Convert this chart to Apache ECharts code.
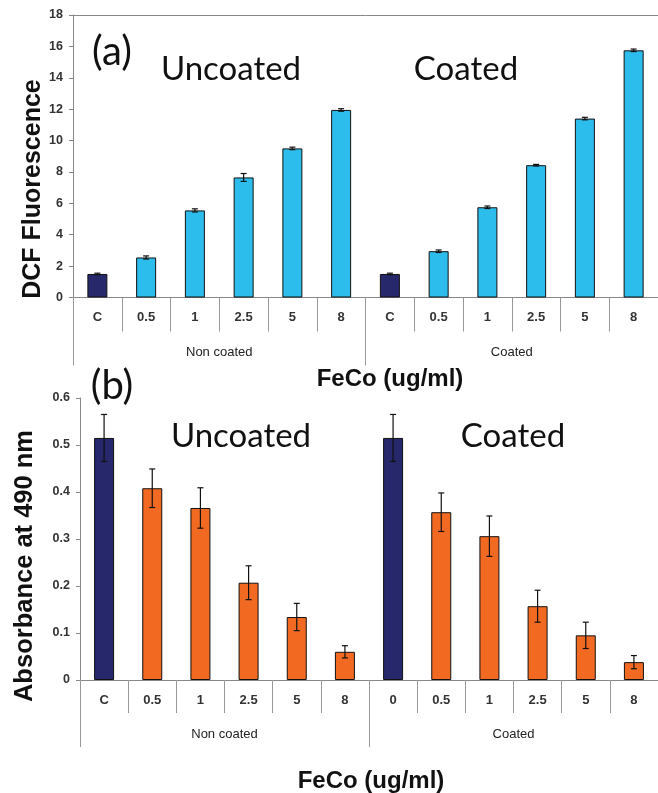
<!DOCTYPE html>
<html>
<head>
<meta charset="utf-8">
<script src="https://cdn.jsdelivr.net/npm/echarts@6/dist/echarts.min.js"></script>
<style>html,body{margin:0;padding:0;background:#fff;}#c{width:658px;height:793px;}</style>
</head>
<body>
<div id="c"></div>
<script>
// ---- data ----
const catsA = ['C','0.5','1','2.5','5','8','C','0.5','1','2.5','5','8'];
const catsB = ['C','0.5','1','2.5','5','8','0','0.5','1','2.5','5','8'];
const groups = ['Non coated','Coated'];
const dcfUncoated = [1.5, 2.55, 5.55, 7.65, 9.5, 11.95];
const dcfCoated = [1.5, 2.95, 5.75, 8.43, 11.4, 15.75];
const dcfErrUncoated = [0.05, 0.1, 0.1, 0.25, 0.08, 0.08];
const dcfErrCoated = [0.05, 0.08, 0.08, 0.05, 0.08, 0.08];
const absUncoated = [0.515, 0.408, 0.366, 0.207, 0.134, 0.06];
const absCoated = [0.515, 0.357, 0.306, 0.157, 0.095, 0.038];
const absErrUncoated = [0.05, 0.041, 0.043, 0.036, 0.029, 0.013];
const absErrCoated = [0.05, 0.041, 0.043, 0.034, 0.028, 0.014];
const yTicksA = {min: 0, max: 18, interval: 2};
const yTicksB = {min: 0, max: 0.6, interval: 0.1};

// ---- styles ----
const NAVY = '#27286B', CYAN = '#2DBDEC', ORANGE = '#F26A22';
const yTickFont = {fontFamily: 'Arial, Liberation Sans', fontWeight: 'bold', fontSize: 12.5, color: '#333'};
const xTickFont = {fontFamily: 'Arial, Liberation Sans', fontWeight: 'bold', fontSize: 13, color: '#333'};
const annFont = 'Lato, "Open Sans", sans-serif';

function barData(u, c, color) {
  const vals = u.concat(c);
  return vals.map((v, i) => ({value: v, itemStyle: {color: (i % 6 === 0) ? NAVY : color}}));
}
function errData(u, c, eu, ec) {
  const vals = u.concat(c), errs = eu.concat(ec);
  return vals.map((v, i) => [i, v, errs[i]]);
}
function errRender(params, api) {
  const x = api.value(0), y = api.value(1), e = api.value(2);
  const hi = api.coord([x, y + e]);
  const lo = api.coord([x, y - e]);
  const h = 3;
  const st = {stroke: '#111', lineWidth: 1.2};
  return {type: 'group', children: [
    {type: 'line', shape: {x1: hi[0], y1: hi[1], x2: lo[0], y2: lo[1]}, style: st},
    {type: 'line', shape: {x1: hi[0]-h, y1: hi[1], x2: hi[0]+h, y2: hi[1]}, style: st},
    {type: 'line', shape: {x1: lo[0]-h, y1: lo[1], x2: lo[0]+h, y2: lo[1]}, style: st}
  ]};
}
function innerAxis(gi, cats, tickLen, margin) {
  return {type: 'category', gridIndex: gi, data: cats, position: 'bottom',
    axisLine: {show: true, lineStyle: {color: '#888', width: 1}},
    axisTick: {show: true, interval: 0, length: tickLen, lineStyle: {color: '#999'}},
    axisLabel: Object.assign({interval: 0, margin: margin}, xTickFont),
    splitLine: {show: false}};
}
function groupAxis(gi, tickLen, margin) {
  return {type: 'category', gridIndex: gi, data: groups, position: 'bottom',
    axisLine: {show: false},
    axisTick: {show: true, interval: 0, length: tickLen, lineStyle: {color: '#999'}},
    axisLabel: {interval: 0, margin: margin, fontFamily: 'Arial, Liberation Sans', fontSize: 13, color: '#222'},
    splitLine: {show: false}};
}
function valAxis(gi, t) {
  return {type: 'value', gridIndex: gi, min: t.min, max: t.max, interval: t.interval,
    axisLine: {show: true, lineStyle: {color: '#888'}},
    axisTick: {show: true, length: 4, lineStyle: {color: '#888'}},
    axisLabel: Object.assign({margin: 10}, yTickFont),
    splitLine: {show: false}};
}
function txt(x, y, text, size, weight, family, rot) {
  return {type: 'text', x: x, y: y, rotation: rot || 0,
    style: {text: text, x: 0, y: 0, align: 'center', verticalAlign: 'middle',
      font: (weight || 'normal') + ' ' + size + 'px ' + family, fill: '#111'}};
}

const chart = echarts.init(document.getElementById('c'), null, {renderer: 'canvas'});
chart.setOption({
  animation: false,
  backgroundColor: '#fff',
  grid: [
    {left: 73, top: 15, width: 587, height: 282.5},
    {left: 80, top: 398, width: 587, height: 282}
  ],
  xAxis: [
    innerAxis(0, catsA, 34, 13),
    groupAxis(0, 68, 48),
    {type: 'category', gridIndex: 0, data: catsA, position: 'top',
      axisLine: {show: true, lineStyle: {color: '#888'}}, axisTick: {show: false}, axisLabel: {show: false}},
    innerAxis(1, catsB, 33, 14),
    groupAxis(1, 67, 48)
  ],
  yAxis: [valAxis(0, yTicksA), valAxis(1, yTicksB)],
  series: [
    {type: 'bar', xAxisIndex: 0, yAxisIndex: 0, barWidth: 20,
      itemStyle: {borderColor: '#111', borderWidth: 1},
      data: barData(dcfUncoated, dcfCoated, CYAN)},
    {type: 'custom', xAxisIndex: 0, yAxisIndex: 0, renderItem: errRender,
      data: errData(dcfUncoated, dcfCoated, dcfErrUncoated, dcfErrCoated), z: 5},
    {type: 'bar', xAxisIndex: 3, yAxisIndex: 1, barWidth: 20,
      itemStyle: {borderColor: '#111', borderWidth: 1},
      data: barData(absUncoated, absCoated, ORANGE)},
    {type: 'custom', xAxisIndex: 3, yAxisIndex: 1, renderItem: errRender,
      data: errData(absUncoated, absCoated, absErrUncoated, absErrCoated), z: 5}
  ],
  graphic: [
    txt(112, 52, '(a)', 40, 'normal', annFont),
    txt(231, 69, 'Uncoated', 33, 'normal', annFont),
    txt(466, 69, 'Coated', 33, 'normal', annFont),
    txt(112, 386, '(b)', 40, 'normal', annFont),
    txt(241, 436, 'Uncoated', 33, 'normal', annFont),
    txt(513, 436, 'Coated', 33, 'normal', annFont),
    txt(33, 189, 'DCF Fluorescence', 25, 'bold', 'Arial, "Liberation Sans"', Math.PI / 2),
    txt(25, 566, 'Absorbance at 490 nm', 25.5, 'bold', 'Arial, "Liberation Sans"', Math.PI / 2),
    txt(390, 379, 'FeCo (ug/ml)', 24, 'bold', 'Arial, "Liberation Sans"'),
    txt(371, 781, 'FeCo (ug/ml)', 24, 'bold', 'Arial, "Liberation Sans"')
  ]
});
</script>
</body>
</html>
